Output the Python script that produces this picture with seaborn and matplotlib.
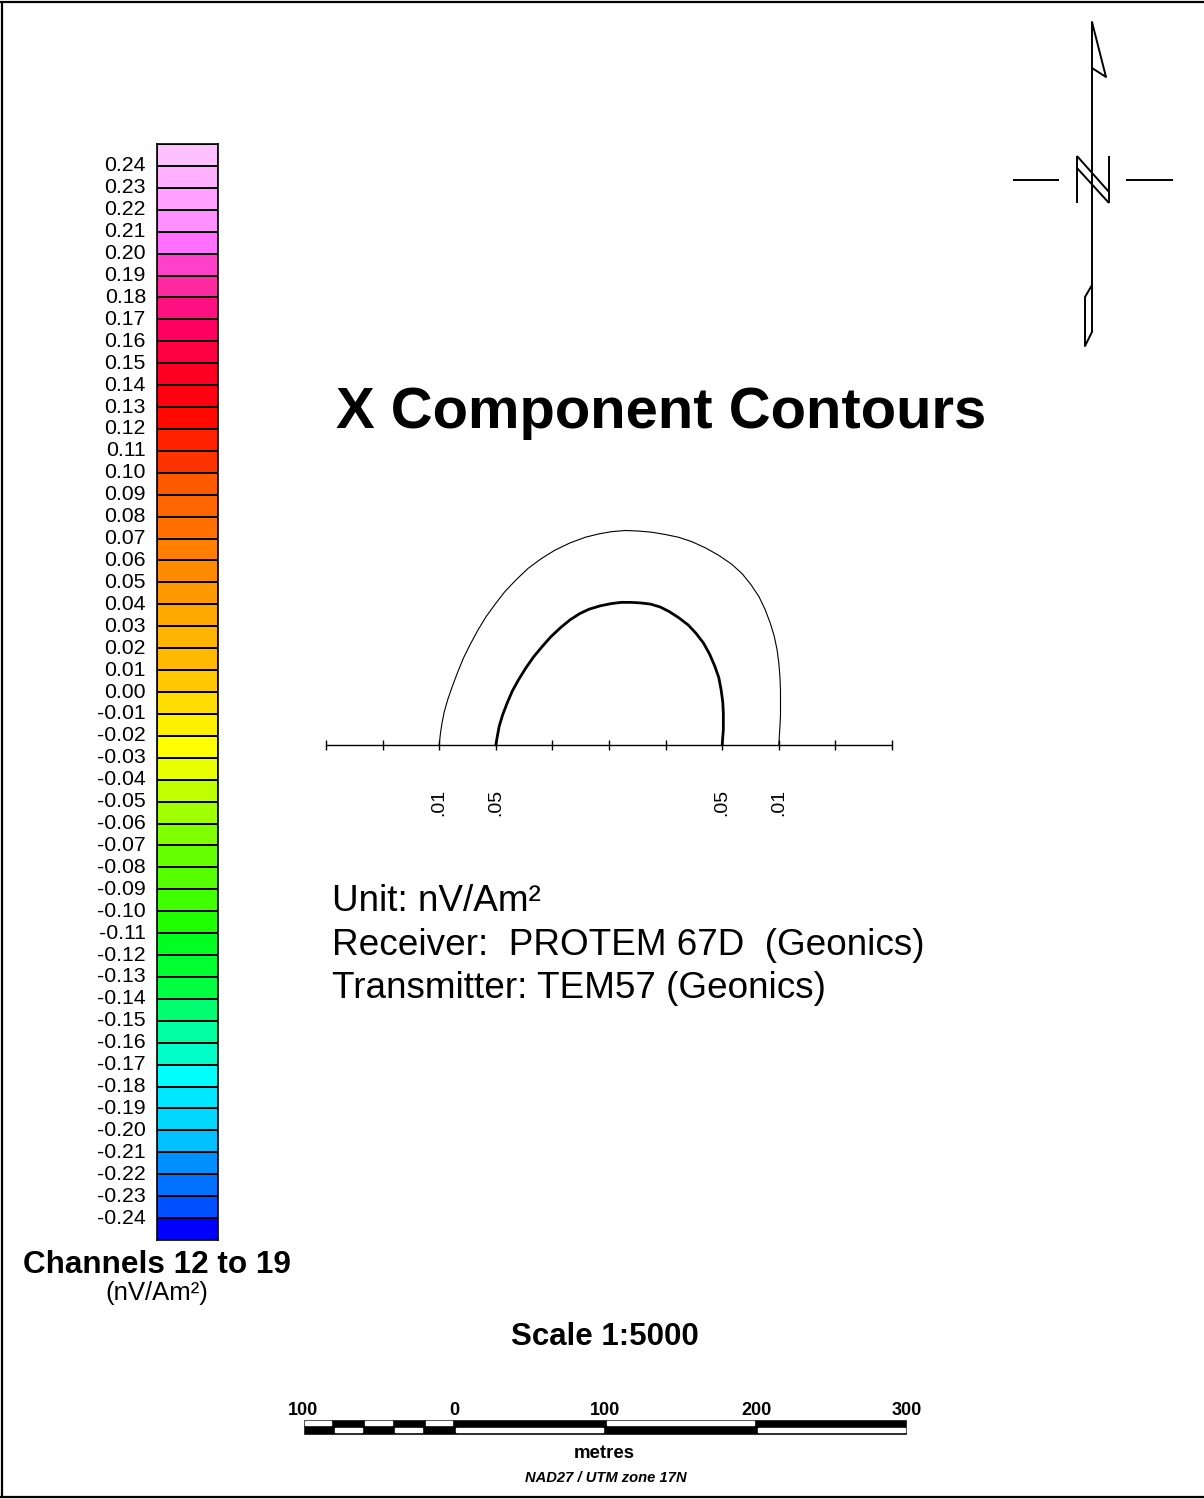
import numpy as np
import seaborn as sns
import matplotlib
matplotlib.use("Agg")
import matplotlib.pyplot as plt
from matplotlib.colors import ListedColormap

# ---------------------------------------------------------------- data
# colour classes, top (above 0.24) to bottom (below -0.24)
bin_colors = [
    "#FFC0FF", "#FFB0FF", "#FFA0FF", "#FF90FF", "#FF70FF", "#FF40C8", "#FF2AA0",
    "#FF1080", "#FF0062", "#FF0040", "#FF0022", "#FF0010", "#FF0800", "#FF2000",
    "#FF3300", "#FF5A00", "#FF6600", "#FF7000", "#FF8000", "#FF8C00", "#FF9900",
    "#FFA800", "#FFB400", "#FFBA00", "#FFC800", "#FFDD00", "#FFF000", "#FFFF00",
    "#E8FF00", "#C0FF00", "#A0FF00", "#80FF00", "#66FF00", "#55FF00", "#40FF00",
    "#20FF00", "#00FF20", "#00FF30", "#00FF40", "#00FF70", "#00FFA0", "#00FFC8",
    "#00FFFF", "#00E8FF", "#00D8FF", "#00C0FF", "#0090FF", "#0070FF", "#0050FF",
    "#0000FF",
]
level_labels = [
    "0.24", "0.23", "0.22", "0.21", "0.20", "0.19", "0.18", "0.17", "0.16", "0.15",
    "0.14", "0.13", "0.12", "0.11", "0.10", "0.09", "0.08", "0.07", "0.06", "0.05",
    "0.04", "0.03", "0.02", "0.01", "0.00", "-0.01", "-0.02", "-0.03", "-0.04",
    "-0.05", "-0.06", "-0.07", "-0.08", "-0.09", "-0.10", "-0.11", "-0.12", "-0.13",
    "-0.14", "-0.15", "-0.16", "-0.17", "-0.18", "-0.19", "-0.20", "-0.21", "-0.22",
    "-0.23", "-0.24",
]

# profile stations along the line
stations = [0, 1, 2, 3, 4, 5, 6, 7, 8, 9, 10]

# contour 0.01 (outer) and 0.05 (inner), in station units
outer_x = [2.00, 2.02, 2.05, 2.09, 2.15, 2.23, 2.32, 2.43, 2.56, 2.69, 2.83, 2.99,
           3.16, 3.36, 3.57, 3.80, 4.04, 4.31, 4.58, 4.82, 5.05, 5.29, 5.52, 5.75,
           5.99, 6.23, 6.47, 6.71, 6.94, 7.16, 7.35, 7.51, 7.65, 7.76, 7.85, 7.92,
           7.97, 8.00, 8.02, 8.03, 8.03, 8.03, 8.02, 8.01, 8.00]
outer_y = [0.00, 0.19, 0.39, 0.59, 0.80, 1.03, 1.27, 1.54, 1.80, 2.04, 2.27, 2.49,
           2.71, 2.92, 3.12, 3.29, 3.44, 3.57, 3.67, 3.73, 3.77, 3.79, 3.78, 3.76,
           3.72, 3.67, 3.59, 3.48, 3.35, 3.20, 3.03, 2.83, 2.62, 2.39, 2.15, 1.92,
           1.68, 1.45, 1.21, 0.97, 0.74, 0.53, 0.33, 0.17, 0.00]
inner_x = [3.00, 3.03, 3.06, 3.12, 3.20, 3.29, 3.40, 3.53, 3.67, 3.82, 3.97, 4.14,
           4.31, 4.48, 4.65, 4.85, 5.05, 5.22, 5.39, 5.56, 5.73, 5.90, 6.06, 6.23,
           6.40, 6.54, 6.67, 6.78, 6.87, 6.94, 6.98, 7.01, 7.02, 7.02, 7.02, 7.01,
           7.00]
inner_y = [0.00, 0.17, 0.33, 0.53, 0.74, 0.95, 1.15, 1.36, 1.56, 1.74, 1.91, 2.07,
           2.21, 2.32, 2.40, 2.46, 2.50, 2.52, 2.52, 2.51, 2.49, 2.44, 2.36, 2.25,
           2.12, 1.97, 1.80, 1.60, 1.39, 1.19, 0.98, 0.76, 0.56, 0.41, 0.27, 0.14,
           0.00]

contour_label_x = [2, 3, 7, 8]
contour_label_text = [".01", ".05", ".05", ".01"]

# scale bar (metres)
scale_edges = [-100, -80, -60, -40, -20, 0, 100, 200, 300]
scale_ticks = [-100, 0, 100, 200, 300]
scale_tick_labels = ["100", "0", "100", "200", "300"]

# ---------------------------------------------------------------- figure
sns.set_theme(style="white")
plt.rcParams["font.family"] = ["Liberation Sans", "DejaVu Sans"]
plt.rcParams["text.color"] = "black"
plt.rcParams["ytick.color"] = "black"
plt.rcParams["xtick.color"] = "black"
plt.rcParams["axes.labelcolor"] = "black"

W, H = 1204, 1499
fig = plt.figure(figsize=(W / 100, H / 100), dpi=100)
fig.patch.set_facecolor("white")


def px_box(x0, y0, x1, y1):
    return [x0 / W, 1 - y1 / H, (x1 - x0) / W, (y1 - y0) / H]


# page overlay in pixel units for frame, north arrow and text
ax0 = fig.add_axes([0, 0, 1, 1])
ax0.set_xlim(0, W)
ax0.set_ylim(H, 0)
ax0.axis("off")

k = dict(color="black", solid_capstyle="butt")
ax0.plot([1.5, 1.5], [1.5, 1496.5], lw=1.6, **k)
ax0.plot([0, W], [1.5, 1.5], lw=1.6, **k)
ax0.plot([0, W], [1496.5, 1496.5], lw=1.6, **k)

# north arrow
lw_n = 1.4
ax0.plot([1092, 1092], [22, 332], lw=lw_n, **k)
ax0.plot([1092, 1106, 1092], [22, 77, 68], lw=lw_n, color="black")
ax0.plot([1092, 1085, 1085, 1092], [285, 297, 346, 332], lw=lw_n, color="black")
ax0.plot([1077, 1077], [156, 203], lw=lw_n, **k)
ax0.plot([1109, 1109], [156, 203], lw=lw_n, **k)
ax0.plot([1077, 1109], [156, 192], lw=lw_n, **k)
ax0.plot([1077, 1109], [168, 203], lw=lw_n, **k)
ax0.plot([1013, 1059], [179.5, 179.5], lw=lw_n, **k)
ax0.plot([1126, 1173], [179.5, 179.5], lw=lw_n, **k)

# ---------------------------------------------------------------- colour legend
ax_cb = fig.add_axes(px_box(157, 144, 218, 1240))
cell_values = np.arange(len(bin_colors)).reshape(-1, 1)
sns.heatmap(cell_values, cmap=ListedColormap(bin_colors), vmin=-0.5,
            vmax=len(bin_colors) - 0.5, cbar=False, linewidths=1.1,
            linecolor="black", xticklabels=False, ax=ax_cb)
ax_cb.set_yticks(np.arange(1, len(level_labels) + 1))
ax_cb.set_yticklabels(level_labels, rotation=0, fontsize=15.3, color="black")
ax_cb.tick_params(axis="y", length=0, pad=8, left=False, labelcolor="black")
ax_cb.set_xlabel("")
ax_cb.set_ylabel("")
for s in ax_cb.spines.values():
    s.set_visible(True)
    s.set_color("black")
    s.set_linewidth(1.2)

ax0.text(157, 1273, "Channels 12 to 19", fontsize=22.7, fontweight="bold",
         ha="center", va="baseline", color="black")
ax0.text(157, 1300, "(nV/Am²)", fontsize=18.5, ha="center", va="baseline",
         color="black")

# ---------------------------------------------------------------- contour profile
ax_c = fig.add_axes(px_box(326, 490.3, 892, 773.3))
ax_c.set_xlim(0, 10)
ax_c.set_ylim(-0.5, 4.5)
ax_c.axis("off")
ax_c.plot([stations[0], stations[-1]], [0, 0], color="black", lw=1.0,
          clip_on=False)
ax_c.vlines(stations, -0.08, 0.08, color="black", lw=1.0, clip_on=False)
sns.lineplot(x=outer_x, y=outer_y, sort=False, estimator=None, color="black",
             lw=0.8, ax=ax_c)
sns.lineplot(x=inner_x, y=inner_y, sort=False, estimator=None, color="black",
             lw=2.0, ax=ax_c)
for xl, tl in zip(contour_label_x, contour_label_text):
    ax_c.text(xl, -1.02, tl, rotation=90, fontsize=14, ha="center", va="center",
              clip_on=False, color="black")

# ---------------------------------------------------------------- texts
ax0.text(661, 428, "X Component Contours", fontsize=41.8, fontweight="bold",
         ha="center", va="baseline", color="black")
info = ["Unit: nV/Am²", "Receiver:  PROTEM 67D  (Geonics)",
        "Transmitter: TEM57 (Geonics)"]
for i, line in enumerate(info):
    ax0.text(332, 911 + 43.5 * i, line, fontsize=26.6, ha="left", va="baseline",
             color="black")

ax0.text(605, 1345, "Scale 1:5000", fontsize=22.5, fontweight="bold",
         ha="center", va="baseline", color="black")

# ---------------------------------------------------------------- scale bar
ax_s = fig.add_axes(px_box(303, 1419, 907, 1435))
ax_s.set_xlim(scale_edges[0], scale_edges[-1])
ax_s.set_ylim(0, 1)
ax_s.axis("off")
ax_s.barh(0.5, scale_edges[-1] - scale_edges[0], left=scale_edges[0], height=1,
          color="black", clip_on=False)
inset = 1.2
for i in range(len(scale_edges) - 1):
    left = scale_edges[i] + inset
    width = scale_edges[i + 1] - scale_edges[i] - 2 * inset
    if i % 2 == 0:
        ax_s.barh(0.765, width, left=left, height=0.25, color="white",
                  clip_on=False)
    else:
        ax_s.barh(0.29, width, left=left, height=0.26, color="white",
                  clip_on=False)
for t, lab in zip(scale_ticks, scale_tick_labels):
    ax_s.text(t, 1.28, lab, fontsize=13, fontweight="bold", ha="center",
              va="baseline", color="black")

ax0.text(604, 1458, "metres", fontsize=13.4, fontweight="bold", ha="center",
         va="baseline", color="black")
ax0.text(606, 1482, "NAD27 / UTM zone 17N", fontsize=10.6, fontweight="bold",
         fontstyle="italic", ha="center", va="baseline", color="black")

fig.savefig("out.png", dpi=100, facecolor="white")
